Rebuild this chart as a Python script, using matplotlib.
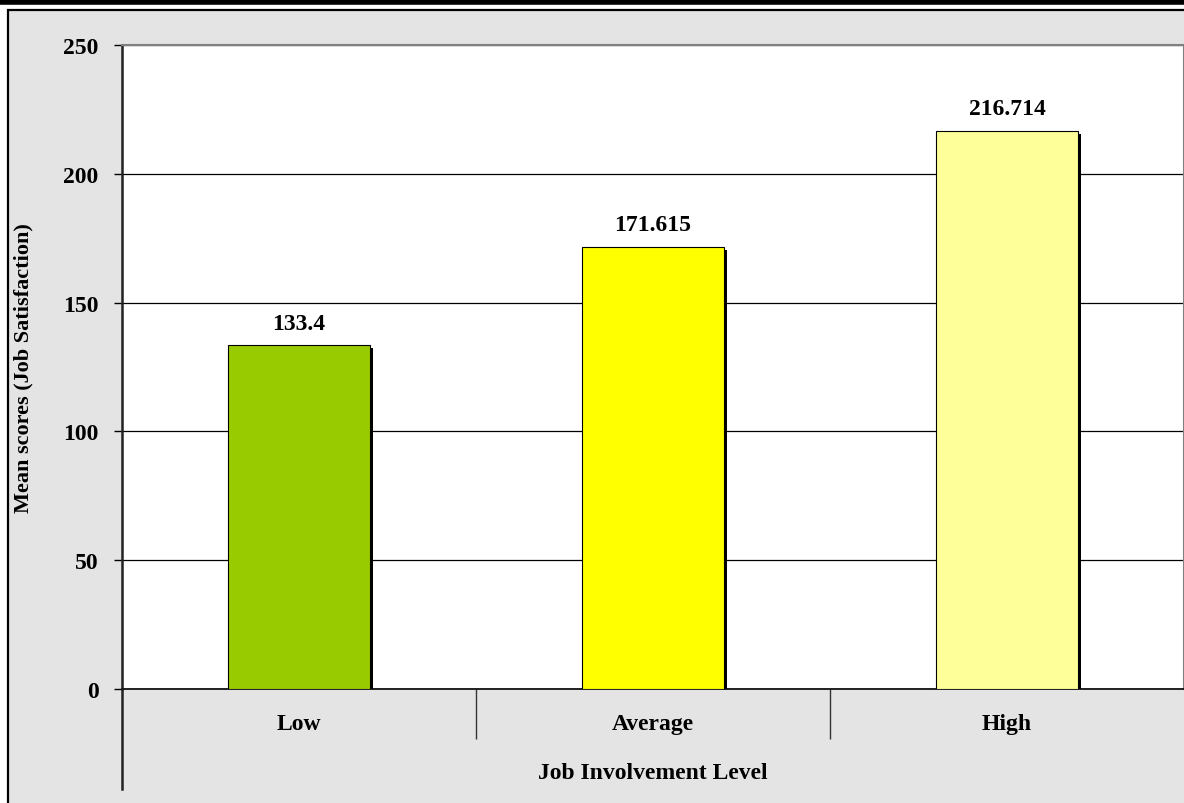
import matplotlib.pyplot as plt
from matplotlib.patches import Rectangle
from matplotlib.lines import Line2D

plt.rcParams["font.family"] = ["Liberation Serif", "DejaVu Serif"]
plt.rcParams["font.weight"] = "bold"

categories = ["Low", "Average", "High"]
mean_scores = [133.4, 171.615, 216.714]
value_labels = ["133.4", "171.615", "216.714"]
bar_colors = ["#99CC00", "#FFFF00", "#FFFF99"]
y_ticks = [0, 50, 100, 150, 200, 250]

W, H = 1184, 804
fig = plt.figure(figsize=(W / 100, H / 100), dpi=100, facecolor="white")

# grey panel with thin frame, thick bar on top
fig.patches.append(Rectangle((8 / W, -0.01), 1.0, (H - 11) / H + 0.01,
                             transform=fig.transFigure, facecolor="#e4e4e4",
                             edgecolor="black", lw=1.6, zorder=-5))
fig.lines.append(Line2D([0, 1], [1 - 2.5 / H, 1 - 2.5 / H], transform=fig.transFigure,
                        color="black", lw=4, zorder=-4))

left, right = 122 / W, 1.0
bottom, top = 1 - 690 / H, 1 - 46 / H
ax = fig.add_axes([left, bottom, right - left, top - bottom])
ax.set_facecolor("white")

x = range(len(categories))
bw = 0.4
# shadows
dx = 3 / 354
dy = 3 / 2.576
ax.bar([i + dx for i in x], [v - dy for v in mean_scores], width=bw, color="black", zorder=2)
ax.bar(x, mean_scores, width=bw, color=bar_colors, edgecolor="black", lw=0.8, zorder=3)

for i, v in enumerate(mean_scores):
    ax.text(i, v + 4.5, value_labels[i], ha="center", va="bottom", fontsize=17, fontweight="bold")

ax.set_xlim(-0.5, 2.5)
ax.set_ylim(0, 250)
ax.set_yticks(y_ticks)
ax.set_yticklabels([str(t) for t in y_ticks], fontsize=17, fontweight="bold")
ax.yaxis.grid(True, color="black", lw=0.9)
ax.set_axisbelow(True)

ax.set_xticks(list(x))
ax.set_xticklabels(categories, fontsize=17, fontweight="bold")
ax.tick_params(axis="x", which="major", length=0, pad=17)
ax.set_xticks([0.5, 1.5], minor=True)
ax.tick_params(axis="x", which="minor", length=36, width=1, color="#333333")
ax.tick_params(axis="y", length=6, width=1, pad=11)

for s in ["top", "right"]:
    ax.spines[s].set_color("#808080")
    ax.spines[s].set_linewidth(1.5)
ax.spines["left"].set_linewidth(1.8)
ax.spines["left"].set_color("#222222")
ax.spines["bottom"].set_linewidth(1.2)

# left axis line continues below plot area
fig.lines.append(Line2D([left, left], [bottom, 1 - 790 / H], transform=fig.transFigure,
                        color="#222222", lw=1.8))

ax.set_xlabel("Job Involvement Level", fontsize=17, fontweight="bold", labelpad=13)
ax.set_ylabel("Mean scores (Job Satisfaction)", fontsize=16, fontweight="bold", labelpad=21)

plt.savefig("out.png", dpi=100, facecolor=fig.get_facecolor())
